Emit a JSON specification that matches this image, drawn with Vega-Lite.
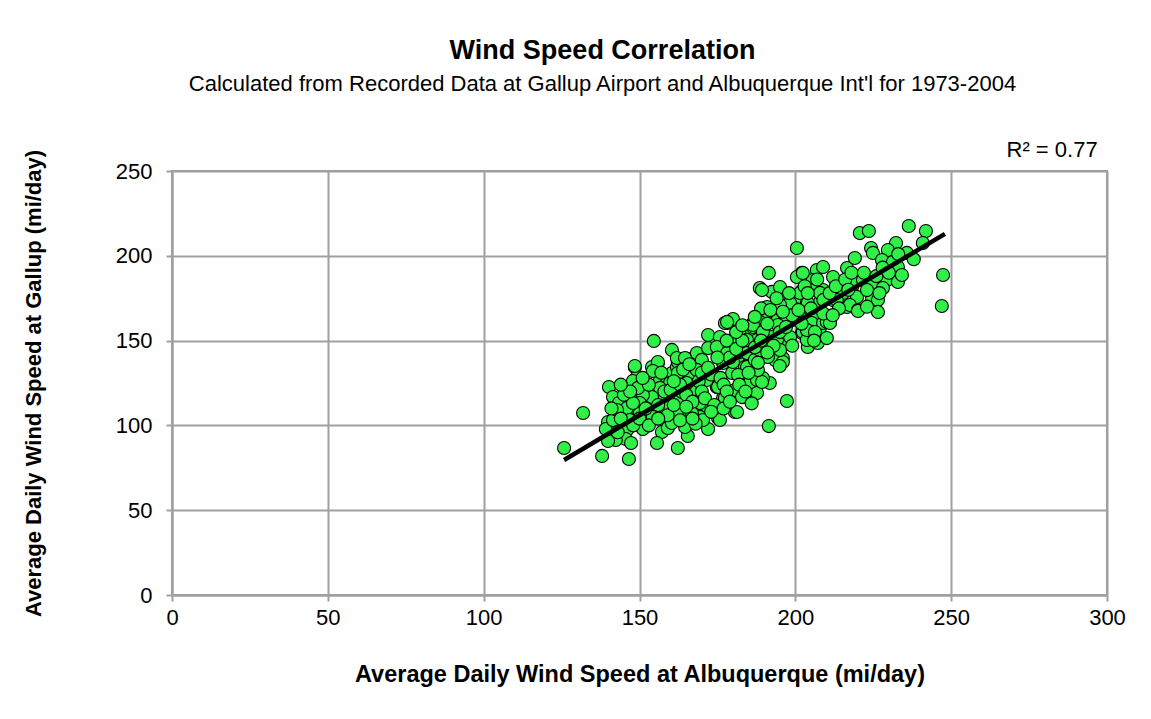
{
  "$schema": "https://vega.github.io/schema/vega-lite/v6.json",
  "width": 935,
  "height": 424,
  "autosize": {"type": "none"},
  "padding": {"left": 172, "top": 171, "right": 44, "bottom": 124},
  "background": "white",
  "config": {
    "font": "Liberation Sans",
    "view": {"stroke": "#a0a0a0", "strokeWidth": 2},
    "axis": {
      "gridColor": "#a0a0a0", "gridWidth": 2, "gridOpacity": 1,
      "domainColor": "#a0a0a0", "domainWidth": 2,
      "tickColor": "#a0a0a0", "tickWidth": 2, "tickSize": 6,
      "labelFont": "Liberation Sans", "labelFontSize": 22, "labelColor": "black",
      "titleFont": "Liberation Sans", "titleFontSize": 22, "titleFontWeight": "bold", "titleColor": "black"
    }
  },
  "title": {
    "text": "Wind Speed Correlation",
    "subtitle": "Calculated from Recorded Data at Gallup Airport and Albuquerque Int'l for 1973-2004",
    "font": "Liberation Sans", "fontSize": 27, "fontWeight": "bold", "color": "black",
    "subtitleFont": "Liberation Sans", "subtitleFontSize": 22, "subtitleColor": "black", "subtitlePadding": 9,
    "anchor": "middle", "frame": "group", "dx": -37, "offset": 43
  },
  "datasets": {
    "obs": [
      {"albuquerque":131.9,"gallup":107.3},{"albuquerque":125.8,"gallup":86.7},{"albuquerque":138.0,"gallup":82.0},{"albuquerque":146.6,"gallup":80.2},{"albuquerque":140.2,"gallup":122.6},{"albuquerque":141.5,"gallup":116.7},{"albuquerque":143.4,"gallup":113.2},{"albuquerque":142.1,"gallup":107.9},{"albuquerque":146.0,"gallup":108.5},{"albuquerque":139.9,"gallup":102.0},{"albuquerque":139.2,"gallup":97.9},{"albuquerque":142.8,"gallup":100.8},{"albuquerque":146.0,"gallup":97.3},{"albuquerque":145.6,"gallup":92.0},{"albuquerque":142.4,"gallup":91.4},{"albuquerque":139.9,"gallup":90.8},{"albuquerque":147.3,"gallup":89.6},{"albuquerque":151.1,"gallup":97.9},{"albuquerque":155.0,"gallup":105.0},{"albuquerque":157.2,"gallup":96.1},{"albuquerque":155.6,"gallup":89.6},{"albuquerque":148.5,"gallup":134.4},{"albuquerque":149.2,"gallup":128.5},{"albuquerque":147.9,"gallup":126.2},{"albuquerque":150.1,"gallup":116.7},{"albuquerque":152.7,"gallup":119.1},{"albuquerque":149.5,"gallup":110.8},{"albuquerque":153.3,"gallup":113.2},{"albuquerque":155.9,"gallup":120.9},{"albuquerque":156.6,"gallup":126.8},{"albuquerque":154.0,"gallup":134.4},{"albuquerque":155.9,"gallup":136.8},{"albuquerque":158.8,"gallup":125.0},{"albuquerque":160.4,"gallup":130.9},{"albuquerque":162.0,"gallup":134.4},{"albuquerque":158.2,"gallup":110.8},{"albuquerque":157.5,"gallup":116.7},{"albuquerque":160.7,"gallup":116.7},{"albuquerque":160.7,"gallup":107.3},{"albuquerque":162.3,"gallup":86.7},{"albuquerque":159.1,"gallup":98.5},{"albuquerque":152.4,"gallup":104.4},{"albuquerque":160.4,"gallup":101.4},
      {"albuquerque":154.6,"gallup":149.8},{"albuquerque":148.5,"gallup":135.0},{"albuquerque":155.9,"gallup":137.4},{"albuquerque":154.3,"gallup":132.1},{"albuquerque":160.4,"gallup":144.5},{"albuquerque":162.3,"gallup":137.4},{"albuquerque":165.2,"gallup":139.2},{"albuquerque":168.4,"gallup":142.7},{"albuquerque":166.2,"gallup":129.7},{"albuquerque":170.0,"gallup":138.6},{"albuquerque":172.0,"gallup":153.3},{"albuquerque":175.8,"gallup":152.1},{"albuquerque":172.0,"gallup":145.6},{"albuquerque":174.8,"gallup":146.2},{"albuquerque":178.1,"gallup":160.4},{"albuquerque":180.0,"gallup":162.7},{"albuquerque":182.2,"gallup":156.3},{"albuquerque":180.6,"gallup":150.4},{"albuquerque":178.1,"gallup":142.7},{"albuquerque":176.8,"gallup":136.8},{"albuquerque":179.7,"gallup":130.9},{"albuquerque":181.6,"gallup":140.3},{"albuquerque":184.5,"gallup":146.2},{"albuquerque":183.8,"gallup":134.4},{"albuquerque":186.1,"gallup":154.5},{"albuquerque":186.4,"gallup":160.4},{"albuquerque":183.2,"gallup":126.8},{"albuquerque":185.4,"gallup":120.9},{"albuquerque":180.6,"gallup":120.9},{"albuquerque":176.8,"gallup":116.2},{"albuquerque":174.8,"gallup":122.6},{"albuquerque":171.6,"gallup":126.8},{"albuquerque":168.4,"gallup":119.1},{"albuquerque":171.6,"gallup":110.8},{"albuquerque":167.8,"gallup":110.3},{"albuquerque":166.8,"gallup":120.9},{"albuquerque":162.3,"gallup":129.7},{"albuquerque":159.8,"gallup":125.0},{"albuquerque":156.6,"gallup":122.1},{"albuquerque":157.2,"gallup":115.0},{"albuquerque":154.0,"gallup":116.7},{"albuquerque":151.1,"gallup":117.9},{"albuquerque":150.1,"gallup":113.2},{"albuquerque":149.5,"gallup":122.1},{"albuquerque":146.0,"gallup":110.3},{"albuquerque":163.0,"gallup":115.0},{"albuquerque":159.8,"gallup":110.8},{"albuquerque":154.3,"gallup":109.1},{"albuquerque":163.6,"gallup":119.7},{"albuquerque":163.9,"gallup":107.9},{"albuquerque":168.4,"gallup":132.7},{"albuquerque":165.2,"gallup":125.0},
      {"albuquerque":200.5,"gallup":204.6},{"albuquerque":191.5,"gallup":189.9},{"albuquerque":188.6,"gallup":181.0},{"albuquerque":192.5,"gallup":178.7},{"albuquerque":195.1,"gallup":181.6},{"albuquerque":190.9,"gallup":169.8},{"albuquerque":197.3,"gallup":171.0},{"albuquerque":202.1,"gallup":189.9},{"albuquerque":206.9,"gallup":191.6},{"albuquerque":208.9,"gallup":193.4},{"albuquerque":205.6,"gallup":185.7},{"albuquerque":212.1,"gallup":187.5},{"albuquerque":216.6,"gallup":192.8},{"albuquerque":219.1,"gallup":198.7},{"albuquerque":218.2,"gallup":181.6},{"albuquerque":215.3,"gallup":176.9},{"albuquerque":212.1,"gallup":173.9},{"albuquerque":208.9,"gallup":179.8},{"albuquerque":202.4,"gallup":179.8},{"albuquerque":201.5,"gallup":175.7},{"albuquerque":203.7,"gallup":172.2},{"albuquerque":207.9,"gallup":172.8},{"albuquerque":200.5,"gallup":168.0},{"albuquerque":203.1,"gallup":163.9},{"albuquerque":206.9,"gallup":163.9},{"albuquerque":211.1,"gallup":161.0},{"albuquerque":207.9,"gallup":157.4},{"albuquerque":205.6,"gallup":155.1},{"albuquerque":202.1,"gallup":154.5},{"albuquerque":204.0,"gallup":146.2},{"albuquerque":198.9,"gallup":162.1},{"albuquerque":195.1,"gallup":163.9},{"albuquerque":192.8,"gallup":162.1},{"albuquerque":190.9,"gallup":166.3},{"albuquerque":188.6,"gallup":161.0},{"albuquerque":186.4,"gallup":158.0},{"albuquerque":177.4,"gallup":160.4},{"albuquerque":189.6,"gallup":156.3},{"albuquerque":192.5,"gallup":152.1},{"albuquerque":197.3,"gallup":150.4},{"albuquerque":196.0,"gallup":139.7},{"albuquerque":193.5,"gallup":139.7},{"albuquerque":187.7,"gallup":150.4},{"albuquerque":184.5,"gallup":150.4},{"albuquerque":180.0,"gallup":150.4},{"albuquerque":182.2,"gallup":143.3},{"albuquerque":185.4,"gallup":141.5},{"albuquerque":188.6,"gallup":142.7},{"albuquerque":216.6,"gallup":169.8},{"albuquerque":218.5,"gallup":176.9},
      {"albuquerque":220.7,"gallup":213.4},{"albuquerque":223.6,"gallup":214.6},{"albuquerque":236.4,"gallup":217.6},{"albuquerque":241.9,"gallup":214.6},{"albuquerque":240.9,"gallup":207.5},{"albuquerque":232.3,"gallup":207.5},{"albuquerque":229.7,"gallup":203.4},{"albuquerque":224.3,"gallup":204.6},{"albuquerque":224.9,"gallup":201.7},{"albuquerque":227.8,"gallup":197.5},{"albuquerque":235.8,"gallup":201.7},{"albuquerque":231.3,"gallup":196.3},{"albuquerque":232.9,"gallup":193.4},{"albuquerque":219.1,"gallup":185.7},{"albuquerque":221.7,"gallup":185.7},{"albuquerque":229.4,"gallup":185.7},{"albuquerque":232.9,"gallup":184.6},{"albuquerque":234.2,"gallup":188.7},{"albuquerque":224.9,"gallup":182.8},{"albuquerque":219.8,"gallup":175.7},{"albuquerque":224.6,"gallup":175.1},{"albuquerque":226.5,"gallup":173.9},{"albuquerque":217.5,"gallup":171.0},{"albuquerque":220.1,"gallup":168.0},{"albuquerque":226.5,"gallup":166.9},{"albuquerque":247.4,"gallup":188.7},{"albuquerque":247.0,"gallup":170.4},{"albuquerque":215.3,"gallup":178.1},{"albuquerque":213.3,"gallup":173.9},{"albuquerque":223.0,"gallup":179.8},{"albuquerque":228.1,"gallup":181.0},
      {"albuquerque":197.3,"gallup":114.4},{"albuquerque":191.5,"gallup":99.6},{"albuquerque":165.5,"gallup":93.8},{"albuquerque":172.0,"gallup":97.9},{"albuquerque":175.2,"gallup":104.4},{"albuquerque":169.4,"gallup":105.0},{"albuquerque":166.2,"gallup":107.3},{"albuquerque":180.6,"gallup":107.9},{"albuquerque":183.2,"gallup":116.7},{"albuquerque":186.4,"gallup":119.1},{"albuquerque":191.8,"gallup":125.0},{"albuquerque":177.4,"gallup":116.2},{"albuquerque":175.2,"gallup":122.6},{"albuquerque":169.4,"gallup":113.2},{"albuquerque":164.6,"gallup":99.1},{"albuquerque":150.1,"gallup":107.3},{"albuquerque":146.9,"gallup":103.2},{"albuquerque":141.5,"gallup":103.2},{"albuquerque":142.8,"gallup":109.1},{"albuquerque":147.9,"gallup":113.2},{"albuquerque":185.4,"gallup":125.0},{"albuquerque":162.0,"gallup":107.9},{"albuquerque":154.3,"gallup":105.0},
      {"albuquerque":166.8,"gallup":107.3},{"albuquerque":170.4,"gallup":103.2},{"albuquerque":175.8,"gallup":103.2},{"albuquerque":181.3,"gallup":107.9},{"albuquerque":182.9,"gallup":116.7},{"albuquerque":187.7,"gallup":119.1},{"albuquerque":189.6,"gallup":127.9},{"albuquerque":193.5,"gallup":138.6},{"albuquerque":196.0,"gallup":137.4},{"albuquerque":187.7,"gallup":126.8},
      {"albuquerque":189.3,"gallup":179.8},{"albuquerque":200.5,"gallup":187.5},{"albuquerque":202.4,"gallup":189.9},{"albuquerque":205.3,"gallup":179.8},{"albuquerque":207.9,"gallup":178.1},{"albuquerque":201.5,"gallup":178.1},{"albuquerque":204.0,"gallup":172.2},{"albuquerque":198.3,"gallup":172.2},{"albuquerque":195.1,"gallup":171.0},{"albuquerque":197.3,"gallup":163.9},{"albuquerque":201.5,"gallup":163.9},{"albuquerque":205.3,"gallup":160.4},{"albuquerque":208.9,"gallup":160.4},{"albuquerque":178.1,"gallup":161.0},{"albuquerque":186.4,"gallup":159.2},{"albuquerque":189.6,"gallup":155.1},{"albuquerque":194.4,"gallup":159.2},{"albuquerque":198.3,"gallup":152.1},{"albuquerque":202.4,"gallup":155.1},{"albuquerque":205.3,"gallup":155.1},{"albuquerque":203.7,"gallup":150.4},{"albuquerque":190.2,"gallup":148.6},{"albuquerque":194.1,"gallup":150.4},{"albuquerque":207.2,"gallup":148.6},{"albuquerque":210.1,"gallup":151.5},{"albuquerque":203.7,"gallup":156.3},{"albuquerque":206.3,"gallup":155.1},{"albuquerque":210.1,"gallup":161.0},{"albuquerque":189.3,"gallup":125.6},{"albuquerque":188.0,"gallup":132.7},{"albuquerque":184.5,"gallup":134.4},{"albuquerque":181.6,"gallup":129.7},{"albuquerque":180.0,"gallup":137.4},{"albuquerque":184.5,"gallup":142.7},{"albuquerque":187.0,"gallup":138.6},{"albuquerque":191.2,"gallup":140.3},{"albuquerque":188.6,"gallup":144.5},{"albuquerque":195.1,"gallup":144.5},
      {"albuquerque":220.1,"gallup":167.5},{"albuquerque":211.1,"gallup":160.4},{"albuquerque":162.0,"gallup":139.7},{"albuquerque":164.6,"gallup":139.7},{"albuquerque":162.3,"gallup":130.9},
      {"albuquerque":143,"gallup":96},{"albuquerque":144,"gallup":104},{"albuquerque":148,"gallup":100},{"albuquerque":145,"gallup":118},{"albuquerque":141,"gallup":110},{"albuquerque":150,"gallup":104},{"albuquerque":147,"gallup":120},{"albuquerque":144,"gallup":124},
      {"albuquerque":152,"gallup":110},{"albuquerque":153,"gallup":124},{"albuquerque":156,"gallup":112},{"albuquerque":158,"gallup":120},{"albuquerque":151,"gallup":128},{"albuquerque":157,"gallup":131},{"albuquerque":159,"gallup":106},{"albuquerque":153,"gallup":100},{"albuquerque":156,"gallup":104},{"albuquerque":160,"gallup":121},
      {"albuquerque":161,"gallup":112},{"albuquerque":163,"gallup":124},{"albuquerque":165,"gallup":118},{"albuquerque":167,"gallup":114},{"albuquerque":169,"gallup":126},{"albuquerque":164,"gallup":133},{"albuquerque":166,"gallup":136},{"albuquerque":168,"gallup":101},{"albuquerque":170,"gallup":120},{"albuquerque":161,"gallup":126},{"albuquerque":163,"gallup":103},{"albuquerque":167,"gallup":104},{"albuquerque":170,"gallup":131},{"albuquerque":165,"gallup":111},
      {"albuquerque":171,"gallup":116},{"albuquerque":173,"gallup":130},{"albuquerque":174,"gallup":112},{"albuquerque":176,"gallup":128},{"albuquerque":177,"gallup":124},{"albuquerque":179,"gallup":140},{"albuquerque":172,"gallup":134},{"albuquerque":178,"gallup":120},{"albuquerque":175,"gallup":140},{"albuquerque":178,"gallup":150},{"albuquerque":173,"gallup":108},{"albuquerque":177,"gallup":110},{"albuquerque":179,"gallup":114},
      {"albuquerque":181,"gallup":145},{"albuquerque":183,"gallup":150},{"albuquerque":185,"gallup":131},{"albuquerque":187,"gallup":146},{"albuquerque":189,"gallup":150},{"albuquerque":182,"gallup":124},{"albuquerque":184,"gallup":120},{"albuquerque":186,"gallup":113},{"albuquerque":188,"gallup":137},{"albuquerque":181,"gallup":155},{"albuquerque":183,"gallup":159},{"albuquerque":189,"gallup":169},{"albuquerque":187,"gallup":164},
      {"albuquerque":191,"gallup":160},{"albuquerque":193,"gallup":147},{"albuquerque":195,"gallup":155},{"albuquerque":197,"gallup":158},{"albuquerque":199,"gallup":165},{"albuquerque":192,"gallup":168},{"albuquerque":194,"gallup":175},{"albuquerque":196,"gallup":167},{"albuquerque":198,"gallup":178},{"albuquerque":191,"gallup":143},{"albuquerque":195,"gallup":135},{"albuquerque":199,"gallup":147},
      {"albuquerque":201,"gallup":168},{"albuquerque":203,"gallup":182},{"albuquerque":205,"gallup":169},{"albuquerque":207,"gallup":186},{"albuquerque":209,"gallup":174},{"albuquerque":202,"gallup":160},{"albuquerque":204,"gallup":178},{"albuquerque":206,"gallup":150},{"albuquerque":209,"gallup":166},
      {"albuquerque":211,"gallup":178},{"albuquerque":213,"gallup":182},{"albuquerque":214,"gallup":169},{"albuquerque":216,"gallup":186},{"albuquerque":218,"gallup":190},{"albuquerque":212,"gallup":165},{"albuquerque":217,"gallup":180},
      {"albuquerque":222,"gallup":190},{"albuquerque":226,"gallup":188},{"albuquerque":228,"gallup":193},{"albuquerque":223,"gallup":170},{"albuquerque":227,"gallup":178},
      {"albuquerque":233,"gallup":201},{"albuquerque":238,"gallup":198},{"albuquerque":230,"gallup":190}
    ],
    "trend": [
      {"albuquerque":125.8,"gallup":79.6},
      {"albuquerque":248.0,"gallup":212.9}
    ]
  },
  "layer": [
    {
      "data": {"name": "obs"},
      "mark": {"type": "point", "shape": "circle", "filled": true, "fill": "#30F048", "stroke": "black", "strokeWidth": 1.1, "size": 170, "opacity": 1},
      "encoding": {
        "x": {"field": "albuquerque", "type": "quantitative", "scale": {"domain": [0, 300], "nice": false, "zero": false},
          "axis": {"values": [0, 50, 100, 150, 200, 250, 300], "title": "Average Daily Wind Speed at Albuquerque (mi/day)", "titleFontSize": 23.5, "labelPadding": 6, "titlePadding": 34, "labelFlush": false}},
        "y": {"field": "gallup", "type": "quantitative", "scale": {"domain": [0, 250], "nice": false, "zero": false},
          "axis": {"values": [0, 50, 100, 150, 200, 250], "title": "Average Daily Wind Speed at Gallup (mi/day)", "labelPadding": 14, "titlePadding": 70, "labelFlush": false}}
      }
    },
    {
      "data": {"name": "trend"},
      "mark": {"type": "line", "color": "black", "strokeWidth": 4.5},
      "encoding": {
        "x": {"field": "albuquerque", "type": "quantitative"},
        "y": {"field": "gallup", "type": "quantitative"}
      }
    },
    {
      "data": {"values": [{"albuquerque": 297, "gallup": 262.5, "label": "R² = 0.77"}]},
      "mark": {"type": "text", "align": "right", "baseline": "middle", "font": "Liberation Sans", "fontSize": 22, "color": "black", "clip": false},
      "encoding": {
        "x": {"field": "albuquerque", "type": "quantitative"},
        "y": {"field": "gallup", "type": "quantitative"},
        "text": {"field": "label"}
      }
    }
  ]
}
